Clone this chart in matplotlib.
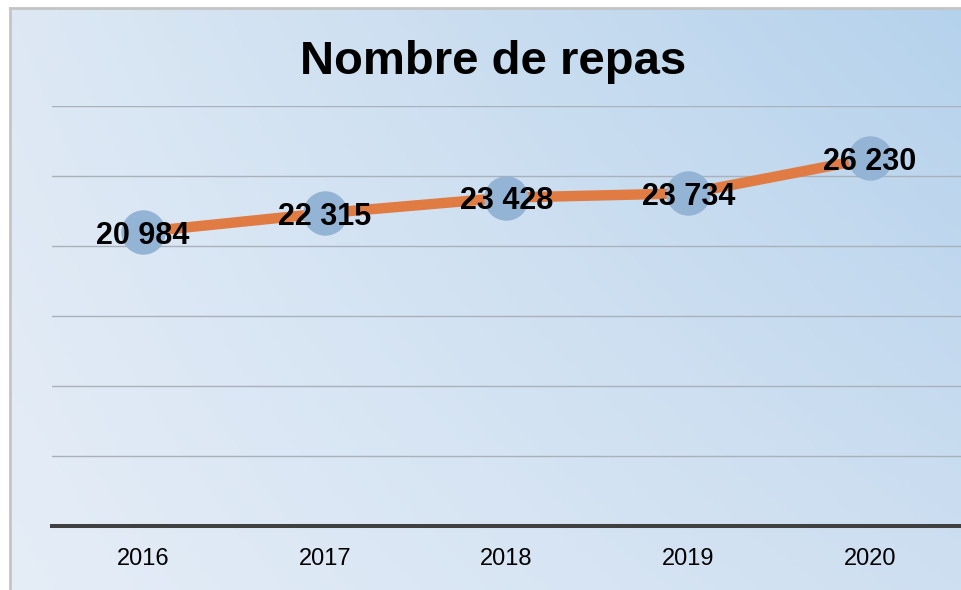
import numpy as np
import matplotlib.pyplot as plt

years = ["2016", "2017", "2018", "2019", "2020"]
repas = [20984, 22315, 23428, 23734, 26230]
title = "Nombre de repas"

plt.rcParams["font.family"] = ["Liberation Sans", "DejaVu Sans"]

W, H = 962, 590
fig = plt.figure(figsize=(W / 100, H / 100), dpi=100)

# background panel with a soft diagonal blue gradient
bg = fig.add_axes([10 / W, 0, 1 - 10 / W, 1 - 8 / H])
tl = np.array([221, 232, 244]) / 255
tr = np.array([181, 210, 236]) / 255
bl = np.array([229, 237, 247]) / 255
br = np.array([206, 223, 241]) / 255
u = np.linspace(0, 1, 200)[None, :, None]
v = np.linspace(0, 1, 120)[:, None, None]
grad = (1 - v) * ((1 - u) * tl + u * tr) + v * ((1 - u) * bl + u * br)
bg.imshow(grad, aspect="auto", extent=[0, 1, 0, 1])
bg.set_xlim(0, 1)
bg.set_ylim(0, 1)
bg.set_xticks([])
bg.set_yticks([])
for side in ["right", "bottom"]:
    bg.spines[side].set_visible(False)
for side in ["top", "left"]:
    bg.spines[side].set_color("#c4c4c4")
    bg.spines[side].set_linewidth(2)

ax = fig.add_axes([52 / W, 1 - 526 / H, 909 / W, (526 - 105.5) / H])
ax.patch.set_alpha(0)
x = np.arange(len(years))
ax.plot(x, repas, color="#e07c43", linewidth=7.5, solid_capstyle="butt", zorder=3)
ax.plot(x, repas, linestyle="none", marker="o", markersize=32,
        markerfacecolor="#93b4d4", markeredgecolor="none", zorder=4)
# value labels, digits centred on each marker
for xi, val in zip(x, repas):
    txt = f"{val:,}".replace(",", " ")
    ax.annotate(txt, (xi, val), xytext=(0, -8.5), textcoords="offset points",
                ha="center", va="baseline", fontsize=22,
                fontweight="bold", color="black", zorder=5)

ax.set_xlim(-0.5, len(years) - 0.5)
ax.set_ylim(0, 30000)
ax.set_yticks(np.arange(5000, 30001, 5000))
ax.set_yticklabels([])
ax.set_xticks(x)
ax.set_xticklabels(years, fontsize=17)
ax.tick_params(axis="both", length=0)
ax.tick_params(axis="x", pad=15.5)
ax.grid(axis="y", color="#a9b1ba", linewidth=1)
ax.set_axisbelow(True)
for side in ["top", "left", "right"]:
    ax.spines[side].set_visible(False)
ax.spines["bottom"].set_color("#404040")
ax.spines["bottom"].set_linewidth(2.9)

fig.text(493 / W, 1 - 74 / H, title, ha="center", va="baseline",
         fontsize=34, fontweight="bold", color="black")

fig.savefig("out.png", dpi=100)
